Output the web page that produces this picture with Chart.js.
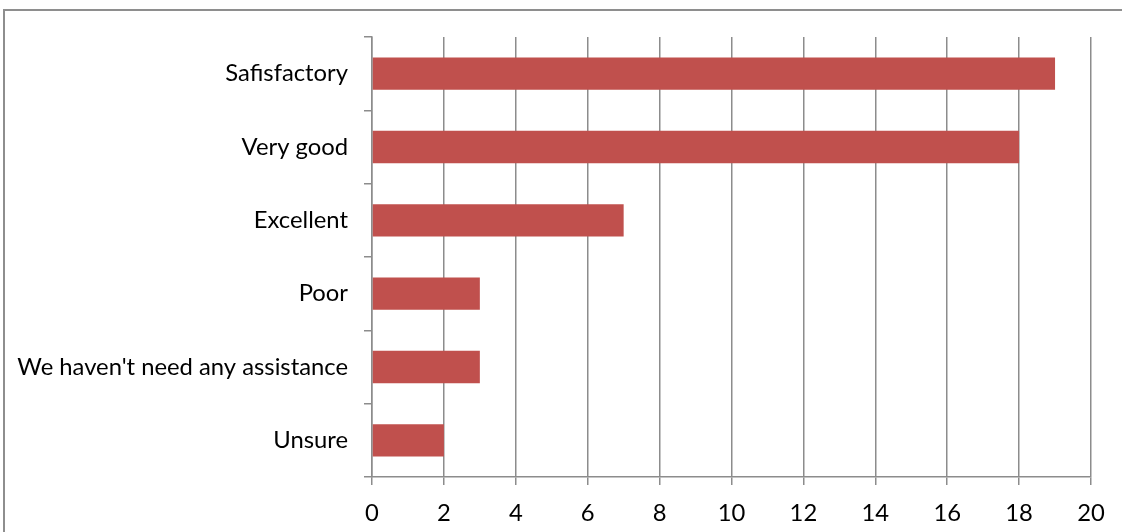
<!DOCTYPE html>
<html>
<head>
<meta charset="utf-8">
<script src="https://cdn.jsdelivr.net/npm/chart.js@4"></script>
<style>
html,body{margin:0;padding:0;background:#fff;overflow:hidden;}
#frame{position:absolute;left:3px;top:9px;width:1130px;height:540px;border:2px solid #8e8e8e;box-sizing:border-box;}
#wrap{position:absolute;left:0;top:0;width:1122px;height:532px;}
</style>
</head>
<body>
<div id="frame"></div>
<div id="wrap"><canvas id="c" width="1122" height="532"></canvas></div>
<script>
const categories = ["Safisfactory", "Very good", "Excellent", "Poor", "We haven't need any assistance", "Unsure"];
const values = [19, 18, 7, 3, 3, 2];
const xMin = 0, xMax = 20, xStep = 2;

const FONT = {family: "Lato, 'Open Sans', sans-serif", size: 23.8};
const GRID = '#8c8c8c';

new Chart(document.getElementById('c'), {
  type: 'bar',
  data: {
    labels: categories,
    datasets: [{
      data: values,
      backgroundColor: '#C0504D',
      borderColor: '#C0504D',
      borderWidth: 0,
      barPercentage: 0.88,
      categoryPercentage: 0.5
    }]
  },
  options: {
    indexAxis: 'y',
    responsive: false,
    animation: false,
    devicePixelRatio: 1,
    layout: {padding: {top: 37, right: 31, bottom: 0, left: 0}},
    plugins: {legend: {display: false}, tooltip: {enabled: false}},
    scales: {
      x: {
        min: xMin, max: xMax,
        ticks: {stepSize: xStep, color: '#000', font: FONT, padding: 14},
        grid: {color: GRID, lineWidth: 1.5, tickLength: 8, drawTicks: true},
        border: {color: GRID, width: 1.5},
        afterFit: s => { s.height = 55; }
      },
      y: {
        ticks: {color: '#000', font: FONT, padding: 16},
        grid: {color: GRID, lineWidth: 1.5, drawOnChartArea: false, tickLength: 8, offset: true},
        border: {color: GRID, width: 1.5},
        afterFit: s => { s.width = 372; }
      }
    }
  }
});
</script>
</body>
</html>
